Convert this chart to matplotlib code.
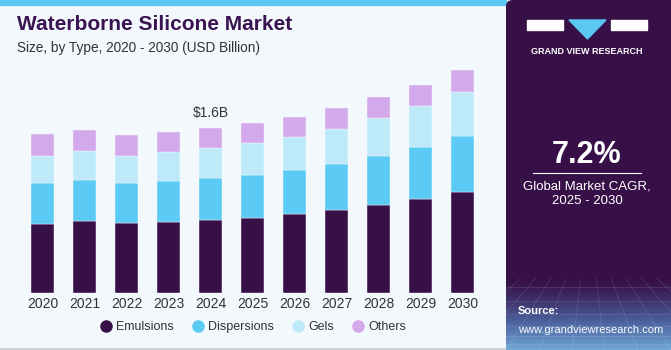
import numpy as np
import matplotlib.pyplot as plt
from matplotlib.patches import FancyBboxPatch, Rectangle, Polygon
from matplotlib.colors import LinearSegmentedColormap
from matplotlib.lines import Line2D

plt.rcParams['font.family'] = ['Liberation Sans', 'DejaVu Sans']

# data (USD Billion)
years = ['2020', '2021', '2022', '2023', '2024', '2025', '2026', '2027', '2028', '2029', '2030']
emulsions = [0.672, 0.695, 0.676, 0.692, 0.708, 0.730, 0.763, 0.805, 0.854, 0.912, 0.983]
dispersions = [0.395, 0.401, 0.388, 0.395, 0.404, 0.417, 0.430, 0.449, 0.475, 0.507, 0.540]
gels = [0.262, 0.278, 0.268, 0.281, 0.294, 0.307, 0.320, 0.339, 0.366, 0.395, 0.430]
others = [0.210, 0.210, 0.198, 0.197, 0.194, 0.191, 0.194, 0.201, 0.204, 0.207, 0.213]
segments = ['Emulsions', 'Dispersions', 'Gels', 'Others']
colors = ['#371047', '#5BCBF5', '#BDE9F9', '#D4A9EC']
callout_year = '2024'
callout_text = '$1.6B'

W, H = 671, 350
BG = '#F3F8FC'
PURPLE = '#371047'

fig = plt.figure(figsize=(W / 100, H / 100), dpi=100)
fig.patch.set_facecolor(BG)

# top accent strip and right panel
fig.patches.append(Rectangle((0, 1 - 5 / H), 506 / W, 5 / H, transform=fig.transFigure,
                             color='#5BC8F2', zorder=0))
fig.patches.append(FancyBboxPatch((506 / W, 0), 200 / W, 1.0, transform=fig.transFigure,
                                  boxstyle='round,pad=0,rounding_size=0.01',
                                  facecolor=PURPLE, edgecolor='none', zorder=0,
                                  mutation_aspect=W / H))

# gradient at the bottom of the panel
gax = fig.add_axes([506 / W, 0, 165 / W, 72 / H])
gax.set_zorder(2)
grad = np.linspace(0, 1, 100).reshape(-1, 1) ** 1.3
cmap = LinearSegmentedColormap.from_list('g', [PURPLE, '#4A5E9A', '#6FA6D6'])
gax.imshow(grad, aspect='auto', cmap=cmap, extent=[0, 1, 0, 1], origin='upper')
for k in range(1, 12):
    gax.plot([k / 11, 0.5 + (k / 11 - 0.5) * 2.2], [1, 0], color='white', lw=0.4, alpha=0.18)
for yy in [0.08, 0.2, 0.34, 0.5, 0.68, 0.88]:
    gax.plot([0, 1], [yy, yy], color='white', lw=0.4, alpha=0.18)
gax.set_xlim(0, 1)
gax.set_ylim(0, 1)
gax.axis('off')
gax.text(12 / 165, 1 - 33 / 72, 'Source:', fontsize=8, fontweight='bold',
         color='white', va='center', transform=gax.transAxes)
gax.text(12 / 165, 20 / 72, 'www.grandviewresearch.com', fontsize=8, color='white',
         va='center', transform=gax.transAxes)

# bar chart
ax = fig.add_axes([21.5 / W, 57 / H, 462 / W, 247.4 / H])
ax.set_facecolor(BG)
x = np.arange(len(years))
bottom = np.zeros(len(years))
for name, vals, c in zip(segments, [emulsions, dispersions, gels, others], colors):
    ax.bar(x, vals, width=0.55, bottom=bottom, color=c, label=name,
           edgecolor=BG, linewidth=0.3)
    bottom += np.array(vals)

i = years.index(callout_year)
ax.text(x[i], bottom[i] + 0.08, callout_text, ha='center', va='bottom',
        fontsize=10, color='#333333')

ax.set_xlim(-0.5, len(years) - 0.5)
ax.set_ylim(0, 2.4)
ax.set_xticks(x)
ax.set_xticklabels(years, fontsize=10, color='#333333')
ax.tick_params(axis='x', length=0, pad=3)
ax.set_yticks([])
for s in ax.spines.values():
    s.set_visible(False)

handles = [Line2D([], [], marker='o', ls='', markersize=8, color=c) for c in colors]
fig.legend(handles, segments, loc='center', bbox_to_anchor=(253 / W, 1 - 327 / H),
           ncol=4, frameon=False, fontsize=9, handlelength=0.9, handletextpad=0.35,
           columnspacing=1.5, labelcolor='#333333')

# titles
fig.text(17 / W, 1 - 25 / H, 'Waterborne Silicone Market', fontsize=15,
         fontweight='bold', color='#3A1450', va='center')
fig.text(17 / W, 1 - 48 / H, 'Size, by Type, 2020 - 2030 (USD Billion)', fontsize=9.8,
         color='#333333', va='center')

# logo
fig.patches.append(Rectangle((527 / W, 1 - 30 / H), 36 / W, 10 / H,
                             transform=fig.transFigure, color='white'))
fig.patches.append(Rectangle((611 / W, 1 - 30 / H), 36 / W, 10 / H,
                             transform=fig.transFigure, color='white'))
fig.patches.append(Polygon([(569 / W, 1 - 20 / H), (606 / W, 1 - 20 / H), (587.5 / W, 1 - 39 / H)],
                           closed=True, transform=fig.transFigure, color='#5BC8F2'))
fig.text(587 / W, 1 - 51 / H, 'GRAND VIEW RESEARCH', fontsize=6.5, fontweight='bold',
         color='white', ha='center', va='center')

# CAGR box
fig.text(587 / W, 1 - 155 / H, '7.2%', fontsize=22, fontweight='bold', color='white',
         ha='center', va='center')
fig.add_artist(Line2D([533 / W, 641 / W], [1 - 173 / H, 1 - 173 / H], color='white', lw=0.8))
fig.text(587 / W, 1 - 186 / H, 'Global Market CAGR,', fontsize=9.5, color='white',
         ha='center', va='center')
fig.text(587 / W, 1 - 201 / H, '2025 - 2030', fontsize=9.5, color='white',
         ha='center', va='center')

fig.add_artist(Line2D([0, 1], [1.5 / H, 1.5 / H], color='#C8CCD0', lw=1.2))

fig.savefig('out.png', dpi=100, facecolor=fig.get_facecolor())
